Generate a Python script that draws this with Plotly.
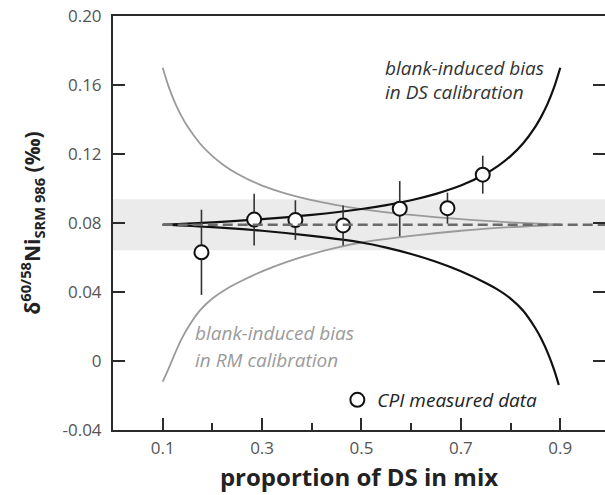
import plotly.graph_objects as go

# ---------------- data ----------------
# measured CPI data
ds_prop = [0.178, 0.284, 0.367, 0.463, 0.577, 0.673, 0.744]
delta_ni = [0.063, 0.082, 0.0817, 0.0786, 0.0883, 0.0886, 0.108]
delta_err = [0.0247, 0.015, 0.0115, 0.0116, 0.016, 0.009, 0.011]

# long-term mean and 2SD band
mean_value = 0.079
band_half = 0.0148
mean_x = [0.1, 0.99]

# blank-induced bias in DS calibration (black curves)
ds_up_x = [0.10, 0.20, 0.30, 0.40, 0.50, 0.55, 0.60, 0.65, 0.70, 0.75, 0.775, 0.80, 0.825, 0.85, 0.8625, 0.875, 0.8875, 0.90]
ds_up_y = [0.079, 0.0804, 0.0822, 0.0847, 0.0881, 0.0904, 0.0932, 0.0969, 0.1017, 0.1086, 0.1131, 0.1188,
           0.1261, 0.1359, 0.1421, 0.1495, 0.1586, 0.170]
ds_lo_x = [0.10, 0.20, 0.30, 0.40, 0.50, 0.55, 0.60, 0.65, 0.70, 0.75, 0.775, 0.80, 0.825, 0.85, 0.8625, 0.875, 0.8875, 0.897]
ds_lo_y = [0.079, 0.0776, 0.0755, 0.0725, 0.0687, 0.0657, 0.0620, 0.0575, 0.0520, 0.0452, 0.0412, 0.0362,
           0.0293, 0.0190, 0.0125, 0.0046, -0.0050, -0.0139]

# blank-induced bias in RM calibration (grey curves)
rm_up_x = [0.10, 0.1125, 0.125, 0.1375, 0.15, 0.175, 0.20, 0.225, 0.25, 0.30, 0.35, 0.40, 0.45, 0.50, 0.60, 0.70, 0.80, 0.90]
rm_up_y = [0.170, 0.1586, 0.1495, 0.1421, 0.1359, 0.1261, 0.1188, 0.1131, 0.1086, 0.1017, 0.0969, 0.0932,
           0.0904, 0.0881, 0.0847, 0.0822, 0.0804, 0.079]
rm_lo_x = [0.10, 0.1125, 0.125, 0.1375, 0.15, 0.175, 0.20, 0.225, 0.25, 0.30, 0.35, 0.40, 0.45, 0.50, 0.60, 0.70, 0.80, 0.90]
rm_lo_y = [-0.012, -0.004, 0.0046, 0.0125, 0.0190, 0.0293, 0.0362, 0.0412, 0.0452, 0.0520, 0.0575, 0.0620,
           0.0657, 0.0687, 0.0725, 0.0755, 0.0776, 0.079]

y_ticks = [-0.04, 0, 0.04, 0.08, 0.12, 0.16, 0.20]
y_tick_text = ["-0.04", "0", "0.04", "0.08", "0.12", "0.16", "0.20"]
x_ticks = [0.1, 0.3, 0.5, 0.7, 0.9]
x_tick_text = ["0.1", "0.3", "0.5", "0.7", "0.9"]
x_minor = [0.2, 0.4, 0.6, 0.8]

FONT = "Open Sans"
AX = "#2b2b2b"

fig = go.Figure()

# dashed mean line (on the mirrored right-hand axis so its ticks are drawn)
fig.add_trace(go.Scatter(x=mean_x, y=[mean_value] * len(mean_x), mode="lines", yaxis="y2",
                         line=dict(color="#6a6a6a", width=2.5, dash="10px,5px"),
                         showlegend=False, hoverinfo="skip"))

# grey curves
for xs, ys in [(rm_up_x, rm_up_y), (rm_lo_x, rm_lo_y)]:
    fig.add_trace(go.Scatter(x=xs, y=ys, mode="lines",
                             line=dict(color="#9a9a9a", width=1.8, shape="spline", smoothing=0.9),
                             showlegend=False, hoverinfo="skip"))
# black curves
for xs, ys in [(ds_up_x, ds_up_y), (ds_lo_x, ds_lo_y)]:
    fig.add_trace(go.Scatter(x=xs, y=ys, mode="lines",
                             line=dict(color="#111111", width=2.2, shape="spline", smoothing=0.9),
                             showlegend=False, hoverinfo="skip"))

# measured data
fig.add_trace(go.Scatter(
    x=ds_prop, y=delta_ni, mode="markers", name="<i>CPI measured data</i>",
    marker=dict(symbol="circle", size=14, color="white", line=dict(color="#111111", width=2)),
    error_y=dict(type="data", array=delta_err, visible=True, color="#333333", thickness=1.6, width=0),
    showlegend=True))

# grey band
fig.add_shape(type="rect", xref="paper", yref="y", x0=0, x1=1,
              y0=mean_value - band_half, y1=mean_value + band_half,
              fillcolor="#ebebeb", line=dict(width=0), layer="below")

ann_dark = dict(font=dict(family=FONT, size=19, color="#333333", style="italic"), showarrow=False,
                xanchor="left", yanchor="middle")
ann_grey = dict(font=dict(family=FONT, size=19, color="#9a9a9a", style="italic"), showarrow=False,
                xanchor="left", yanchor="middle")
fig.add_annotation(x=0.544, y=0.2 - (68 - 16) * 0.24 / 414, text="blank-induced bias", **ann_dark)
fig.add_annotation(x=0.544, y=0.2 - (92 - 16) * 0.24 / 414, text="in DS calibration", **ann_dark)
fig.add_annotation(x=0.161, y=0.2 - (333 - 16) * 0.24 / 414, text="blank-induced bias", **ann_grey)
fig.add_annotation(x=0.161, y=0.2 - (360 - 16) * 0.24 / 414, text="in RM calibration", **ann_grey)

fig.update_layout(
    width=605, height=495,
    margin=dict(l=113, r=0, t=16, b=65),
    plot_bgcolor="white", paper_bgcolor="white",
    font=dict(family=FONT, color="#555555"),
    legend=dict(x=0.456, y=0.0725, xanchor="left", yanchor="middle", bgcolor="rgba(0,0,0,0)",
                font=dict(family=FONT, size=19, color="#222222"), itemwidth=30),
    xaxis=dict(range=[0, 0.99], tickvals=x_ticks, ticktext=x_tick_text,
               showgrid=False, zeroline=False, showline=True, linecolor=AX, linewidth=2, mirror=True,
               ticks="inside", ticklen=12, tickwidth=1.5, tickcolor=AX,
               minor=dict(tickvals=x_minor, ticks="inside", ticklen=7, tickwidth=1.5, tickcolor=AX),
               tickfont=dict(family=FONT, size=17, color="#555555"), ticklabelstandoff=2,
               title=dict(text="<b>proportion of DS in mix</b>", font=dict(family=FONT, size=24, color="#222222"),
                          standoff=11)),
    yaxis=dict(range=[-0.04, 0.20], tickvals=y_ticks, ticktext=y_tick_text,
               showgrid=False, zeroline=False, showline=True, linecolor=AX, linewidth=2, mirror=False,
               ticks="inside", ticklen=12, tickwidth=1.5, tickcolor=AX,
               tickfont=dict(family=FONT, size=17, color="#555555"), ticklabelstandoff=6,
               title=dict(text="<b>δ<sup>60/58</sup>Ni<sub>SRM 986</sub> (‰)</b>",
                          font=dict(family=FONT, size=21, color="#222222"), standoff=16)),
    yaxis2=dict(range=[-0.04, 0.20], tickvals=y_ticks, overlaying="y", side="right",
                showgrid=False, zeroline=False, showline=False, showticklabels=False,
                ticks="inside", ticklen=12, tickwidth=1.5, tickcolor=AX),
)

fig.write_html("out.html")
